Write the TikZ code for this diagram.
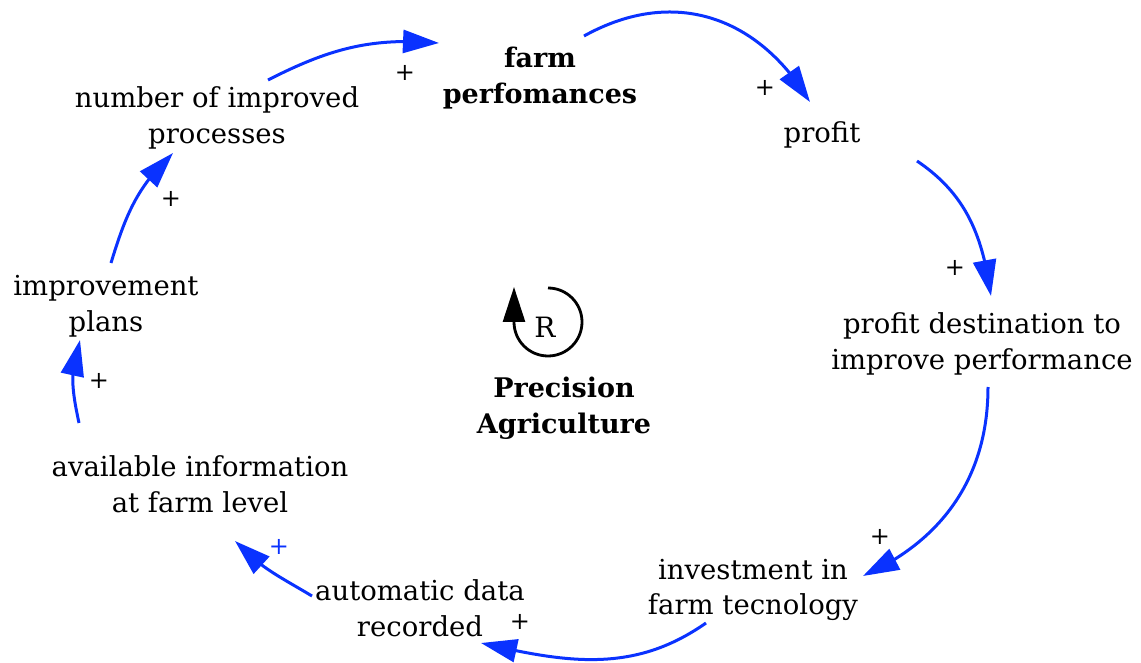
\documentclass[tikz,border=0pt]{standalone}
\usepackage{fontspec}
\setmainfont{DejaVu Serif}
\usetikzlibrary{arrows.meta,bending}
\definecolor{linkblue}{RGB}{10,50,255}
\begin{document}
\begin{tikzpicture}[x=1pt,y=1pt,
  var/.style={align=center, inner sep=0pt, font=\fontsize{27.5}{35.5}\selectfont},
  keyvar/.style={align=center, inner sep=0pt, font=\bfseries\fontsize{27}{35.5}\selectfont},
  link/.style={draw=linkblue, line width=3pt, -{Triangle[length=36pt,width=23pt,flex]}},
  pol/.style={inner sep=0pt, font=\fontsize{24}{26}\selectfont},
  loopline/.style={draw=black, line width=2.8pt, -{Triangle[length=35pt,width=22pt]}},
]
\useasboundingbox (0,0) rectangle (1141,662);

% variables of the reinforcing loop
\node[keyvar] (fp)     at (540,584) {farm\\perfomances};
\node[var]    (profit) at (822,527) {profit};
\node[var]    (dest)   at (982,318) {profit destination to\\improve performance};
\node[var]    (invest) at (753,72)  {investment in\\farm tecnology};
\node[var]    (auto)   at (420,54)  {automatic data\\recorded};
\node[var]    (avail)  at (200,178) {available information\\at farm level};
\node[var]    (plans)  at (106,356) {improvement\\plans};
\node[var]    (nproc)  at (217,544) {number of improved\\processes};

% loop marker
\coordinate (loopc) at (548,340);
\node[font=\fontsize{28}{30}\selectfont, inner sep=0pt] (R) at (545,335) {R};
\draw[loopline] ([shift={(90:34)}]loopc) arc[start angle=90,end angle=-180,radius=34] -- ++(0,35);
\node[keyvar] (pa) at (564,254) {Precision\\Agriculture};

% causal links
\draw[link] ([shift={(44,42)}]fp.center) to[out=29,in=121,looseness=1.1] ([shift={(-12,33)}]profit.center);
\draw[link] ([shift={(95,-26)}]profit.center) to[out=-34,in=98] ([shift={(9,48)}]dest.center);
\draw[link] ([shift={(6,-43)}]dest.center) to[out=-90,in=24] ([shift={(110,14)}]invest.center);
\draw[link] ([shift={(-47,-33)}]invest.center) to[out=-145,in=-13] ([shift={(61,-35)}]auto.center);
\draw[link] ([shift={(-108,12)}]auto.center) to[out=149,in=-47] ([shift={(35,-57)}]avail.center);
\draw[link] ([shift={(-121,61)}]avail.center) to[out=102,in=-110] ([shift={(-26,-34)}]plans.center);
\draw[link] ([shift={(5,43)}]plans.center) to[out=73,in=-137] ([shift={(-44,-35)}]nproc.center);
\draw[link] ([shift={(51,38)}]nproc.center) to[out=27,in=175] ([shift={(-101,35)}]fp.center);

% link polarities
\node[pol] (p1) at (765,574) {+};
\node[pol] (p2) at (955,394) {+};
\node[pol] (p3) at (880,125) {+};
\node[pol] (p4) at (520,40)  {+};
\node[pol, text=linkblue] (p5) at (279,115) {+};
\node[pol] (p6) at (99,281)  {+};
\node[pol] (p7) at (171,463) {+};
\node[pol] (p8) at (405,589) {+};
\end{tikzpicture}
\end{document}
